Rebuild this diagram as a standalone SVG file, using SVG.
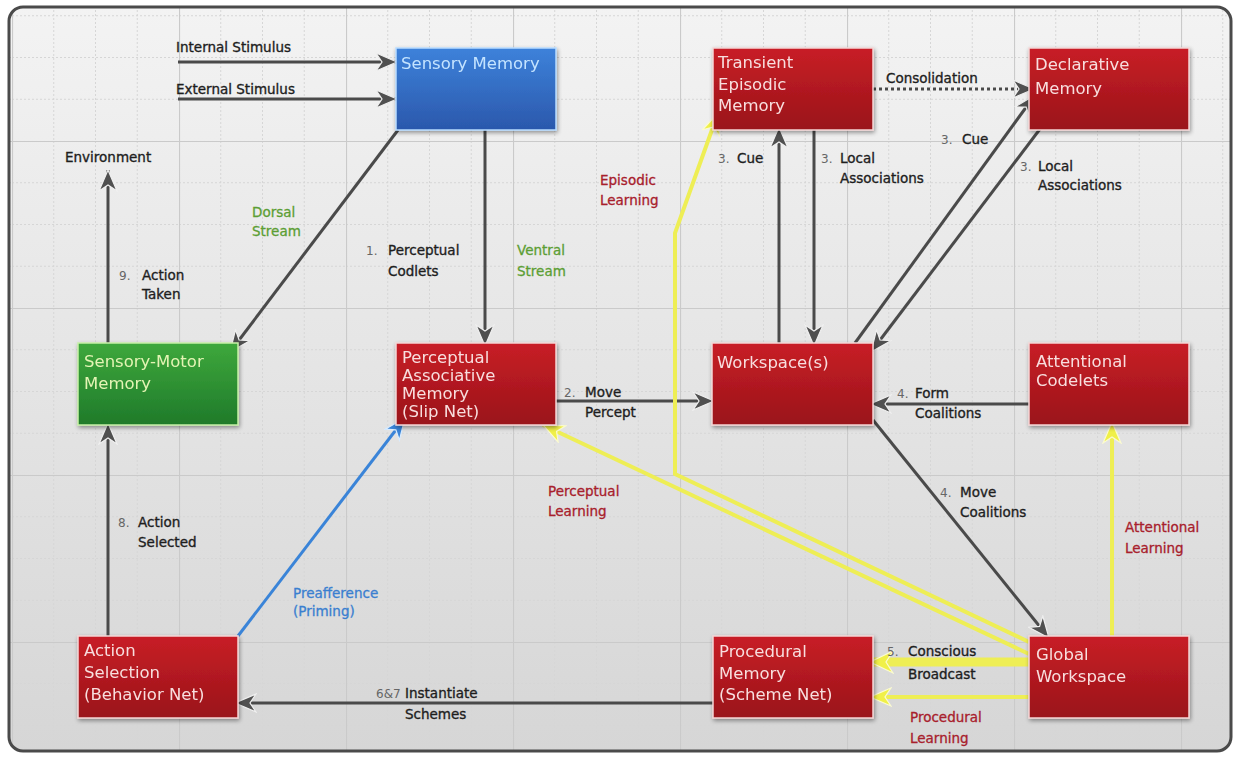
<svg xmlns="http://www.w3.org/2000/svg" width="1240" height="758" viewBox="0 0 1240 758">
<style>
.lbl{font-family:"DejaVu Sans",Verdana,sans-serif;font-size:13.5px;fill:#1e1e1e;stroke:#1e1e1e;stroke-width:0.35}
.num{font-family:"DejaVu Sans",Verdana,sans-serif;font-size:12px;fill:#666}
.grn{font-family:"DejaVu Sans",Verdana,sans-serif;font-size:13.5px;fill:#5c9e34;stroke:#5c9e34;stroke-width:0.3}
.red{font-family:"DejaVu Sans",Verdana,sans-serif;font-size:13.5px;fill:#a8202c;stroke:#a8202c;stroke-width:0.3}
.blu{font-family:"DejaVu Sans",Verdana,sans-serif;font-size:13.5px;fill:#3a7fd0;stroke:#3a7fd0;stroke-width:0.3}
.nt{font-family:"DejaVu Sans",Verdana,sans-serif;font-size:16.5px;fill:#f8dede}
.ntb{font-family:"DejaVu Sans",Verdana,sans-serif;font-size:16.5px;fill:#c4e4ff}
.ntg{font-family:"DejaVu Sans",Verdana,sans-serif;font-size:16.5px;fill:#e4f4b4}
.box{stroke:#f4d6d6;stroke-width:1.5}
.dk{fill:none;stroke:#4a4a4a;stroke-width:3}
.yl{fill:none;stroke:#eeee55;stroke-width:4}
</style>
<defs>
<linearGradient id="bg" x1="0" y1="0" x2="0" y2="1">
<stop offset="0" stop-color="#f3f3f3"/><stop offset="1" stop-color="#d6d6d6"/>
</linearGradient>
<linearGradient id="gr" x1="0" y1="0" x2="0" y2="1">
<stop offset="0" stop-color="#c81e26"/><stop offset="1" stop-color="#9a141a"/>
</linearGradient>
<linearGradient id="gb" x1="0" y1="0" x2="0" y2="1">
<stop offset="0" stop-color="#3d82da"/><stop offset="1" stop-color="#2b58ac"/>
</linearGradient>
<linearGradient id="gg" x1="0" y1="0" x2="0" y2="1">
<stop offset="0" stop-color="#3ea83c"/><stop offset="1" stop-color="#1f7a2a"/>
</linearGradient>
<pattern id="grid" patternUnits="userSpaceOnUse" x="12" y="141" width="167" height="167">
<path d="M41.75,0V167M83.5,0V167M125.25,0V167M0,41.75H167M0,83.5H167M0,125.25H167" stroke="#d6d6d6" stroke-width="1" stroke-dasharray="2,2" fill="none"/>
<path d="M0.5,0V167M0,0.5H167" stroke="#cacaca" stroke-width="1.2" fill="none"/>
</pattern>
<filter id="sh" x="-10%" y="-10%" width="130%" height="130%">
<feGaussianBlur in="SourceAlpha" stdDeviation="2"/><feOffset dx="1" dy="2"/>
<feComponentTransfer><feFuncA type="linear" slope="0.4"/></feComponentTransfer>
<feMerge><feMergeNode/><feMergeNode in="SourceGraphic"/></feMerge>
</filter>
<marker id="ad" markerUnits="userSpaceOnUse" markerWidth="24" markerHeight="20" refX="22" refY="10" orient="auto" viewBox="0 0 24 20">
<path d="M1,1 L22,10 L1,19 L7,10 z" fill="#505050" stroke="#f0f0f0" stroke-width="1.2"/>
</marker>
<marker id="ay" markerUnits="userSpaceOnUse" markerWidth="24" markerHeight="20" refX="22" refY="10" orient="auto" viewBox="0 0 24 20">
<path d="M1,1 L22,10 L1,19 L7,10 z" fill="#f0f048" stroke="#fbfbd0" stroke-width="1.2"/>
</marker>
<marker id="ayb" markerUnits="userSpaceOnUse" markerWidth="26" markerHeight="24" refX="24" refY="12" orient="auto" viewBox="0 0 26 24">
<path d="M1,1 L24,12 L1,23 L8,12 z" fill="#f0f048" stroke="#fbfbd0" stroke-width="1.2"/>
</marker>
<marker id="ab" markerUnits="userSpaceOnUse" markerWidth="24" markerHeight="20" refX="22" refY="10" orient="auto" viewBox="0 0 24 20">
<path d="M1,1 L22,10 L1,19 L7,10 z" fill="#3a84d8" stroke="#d8ecff" stroke-width="1.2"/>
</marker>
</defs>

<rect x="0" y="0" width="1240" height="758" fill="#ffffff"/>
<rect x="9" y="7" width="1222" height="744" rx="14" fill="url(#bg)"/>
<rect x="9" y="7" width="1222" height="744" rx="14" fill="url(#grid)"/>
<rect x="9" y="7" width="1222" height="744" rx="14" fill="none" stroke="#4a4a4a" stroke-width="3"/>

<g id="connectors">
<path class="dk" d="M178,62 L397,62" marker-end="url(#ad)"/>
<path class="dk" d="M178,99 L397,99" marker-end="url(#ad)"/>
<path class="dk" d="M108,343 L108,170" marker-end="url(#ad)"/>
<path class="dk" d="M398,130 L230,352" marker-end="url(#ad)"/>
<path class="dk" d="M485,130 L485,346" marker-end="url(#ad)"/>
<path class="dk" d="M556,401 L714,401" marker-end="url(#ad)"/>
<path class="dk" d="M779,343 L779,127" marker-end="url(#ad)"/>
<path class="dk" d="M814,130 L814,346" marker-end="url(#ad)"/>
<path class="dk" d="M855,343 L1035,95" marker-end="url(#ad)"/>
<path class="dk" d="M1040,129 L871,352" marker-end="url(#ad)"/>
<path fill="none" stroke="#4a4a4a" stroke-width="3" stroke-dasharray="3,3" d="M873,89 L1034,89" marker-end="url(#ad)"/>
<path class="dk" d="M1029,404 L870,404" marker-end="url(#ad)"/>
<path class="dk" d="M873,420 L1049,638" marker-end="url(#ad)"/>
<path class="dk" d="M108,636 L108,423" marker-end="url(#ad)"/>
<path class="dk" d="M713,703 L235,703" marker-end="url(#ad)"/>
<path fill="none" stroke="#3a84d8" stroke-width="3" d="M238,636 L405,418" marker-end="url(#ab)"/>
<path fill="none" stroke="#eeee55" stroke-width="9" d="M1029,662 L870,662" marker-end="url(#ayb)"/>
<path class="yl" d="M1029,697 L870,697" marker-end="url(#ay)"/>
<path class="yl" d="M1112,636 L1112,422" marker-end="url(#ay)"/>
<path class="yl" d="M1029,654 L543,425" marker-end="url(#ay)"/>
<path class="yl" d="M1029,642 L675,474 L675,233 L718,113" marker-end="url(#ay)"/>
</g>

<g id="labels">
<text class="lbl" x="176" y="52">Internal Stimulus</text>
<text class="lbl" x="176" y="94">External Stimulus</text>
<text class="lbl" x="65" y="162">Environment</text>
<text class="num" x="119" y="280">9.</text><text class="lbl" x="142" y="280">Action</text><text class="lbl" x="142" y="299">Taken</text>
<text class="grn" x="252" y="217">Dorsal</text><text class="grn" x="252" y="236">Stream</text>
<text class="num" x="366" y="255">1.</text><text class="lbl" x="388" y="255">Perceptual</text><text class="lbl" x="388" y="276">Codlets</text>
<text class="grn" x="517" y="255">Ventral</text><text class="grn" x="517" y="276">Stream</text>
<text class="num" x="564" y="397">2.</text><text class="lbl" x="585" y="397">Move</text><text class="lbl" x="585" y="417">Percept</text>
<text class="num" x="718" y="163">3.</text><text class="lbl" x="737" y="163">Cue</text>
<text class="num" x="821" y="163">3.</text><text class="lbl" x="840" y="163">Local</text><text class="lbl" x="840" y="183">Associations</text>
<text class="lbl" x="886" y="83">Consolidation</text>
<text class="num" x="941" y="144">3.</text><text class="lbl" x="962" y="144">Cue</text>
<text class="num" x="1020" y="171">3.</text><text class="lbl" x="1038" y="171">Local</text><text class="lbl" x="1038" y="190">Associations</text>
<text class="num" x="897" y="398">4.</text><text class="lbl" x="915" y="398">Form</text><text class="lbl" x="915" y="418">Coalitions</text>
<text class="num" x="940" y="497">4.</text><text class="lbl" x="960" y="497">Move</text><text class="lbl" x="960" y="517">Coalitions</text>
<text class="num" x="887" y="656">5.</text><text class="lbl" x="908" y="656">Conscious</text><text class="lbl" x="908" y="679">Broadcast</text>
<text class="red" x="910" y="722">Procedural</text><text class="red" x="910" y="743">Learning</text>
<text class="red" x="1125" y="532">Attentional</text><text class="red" x="1125" y="553">Learning</text>
<text class="red" x="548" y="496">Perceptual</text><text class="red" x="548" y="516">Learning</text>
<text class="red" x="600" y="185">Episodic</text><text class="red" x="600" y="205">Learning</text>
<text class="blu" x="293" y="598">Preafference</text><text class="blu" x="293" y="616">(Priming)</text>
<text class="num" x="118" y="527">8.</text><text class="lbl" x="138" y="527">Action</text><text class="lbl" x="138" y="547">Selected</text>
<text class="num" x="376" y="698">6&amp;7</text><text class="lbl" x="405" y="698">Instantiate</text><text class="lbl" x="405" y="719">Schemes</text>
</g>

<g id="sensory-memory" filter="url(#sh)">
<rect x="396" y="48" width="160" height="82" fill="url(#gb)" stroke="#b8dcff" stroke-width="1.5"/>
<text class="ntb" x="401" y="69">Sensory Memory</text>
</g>
<g id="transient-episodic-memory" filter="url(#sh)">
<rect class="box" x="713" y="48" width="160" height="82" fill="url(#gr)"/>
<text class="nt" x="718" y="68">Transient</text><text class="nt" x="718" y="90">Episodic</text><text class="nt" x="718" y="111">Memory</text>
</g>
<g id="declarative-memory" filter="url(#sh)">
<rect class="box" x="1029" y="48" width="160" height="82" fill="url(#gr)"/>
<text class="nt" x="1035" y="70">Declarative</text><text class="nt" x="1035" y="94">Memory</text>
</g>
<g id="sensory-motor-memory" filter="url(#sh)">
<rect x="78" y="343" width="160" height="82" fill="url(#gg)" stroke="#c8f0a8" stroke-width="1.5"/>
<text class="ntg" x="84" y="367">Sensory-Motor</text><text class="ntg" x="84" y="389">Memory</text>
</g>
<g id="perceptual-associative-memory" filter="url(#sh)">
<rect class="box" x="396" y="343" width="160" height="82" fill="url(#gr)"/>
<text class="nt" x="402" y="363">Perceptual</text><text class="nt" x="402" y="381">Associative</text><text class="nt" x="402" y="399">Memory</text><text class="nt" x="402" y="417">(Slip Net)</text>
</g>
<g id="workspace" filter="url(#sh)">
<rect class="box" x="712" y="343" width="161" height="82" fill="url(#gr)"/>
<text class="nt" x="717" y="368">Workspace(s)</text>
</g>
<g id="attentional-codelets" filter="url(#sh)">
<rect class="box" x="1029" y="343" width="160" height="82" fill="url(#gr)"/>
<text class="nt" x="1036" y="367">Attentional</text><text class="nt" x="1036" y="386">Codelets</text>
</g>
<g id="action-selection" filter="url(#sh)">
<rect class="box" x="78" y="636" width="160" height="82" fill="url(#gr)"/>
<text class="nt" x="84" y="656">Action</text><text class="nt" x="84" y="678">Selection</text><text class="nt" x="84" y="700">(Behavior Net)</text>
</g>
<g id="procedural-memory" filter="url(#sh)">
<rect class="box" x="713" y="636" width="160" height="82" fill="url(#gr)"/>
<text class="nt" x="719" y="657">Procedural</text><text class="nt" x="719" y="679">Memory</text><text class="nt" x="719" y="700">(Scheme Net)</text>
</g>
<g id="global-workspace" filter="url(#sh)">
<rect class="box" x="1029" y="636" width="160" height="82" fill="url(#gr)"/>
<text class="nt" x="1036" y="660">Global</text><text class="nt" x="1036" y="682">Workspace</text>
</g>
</svg>
